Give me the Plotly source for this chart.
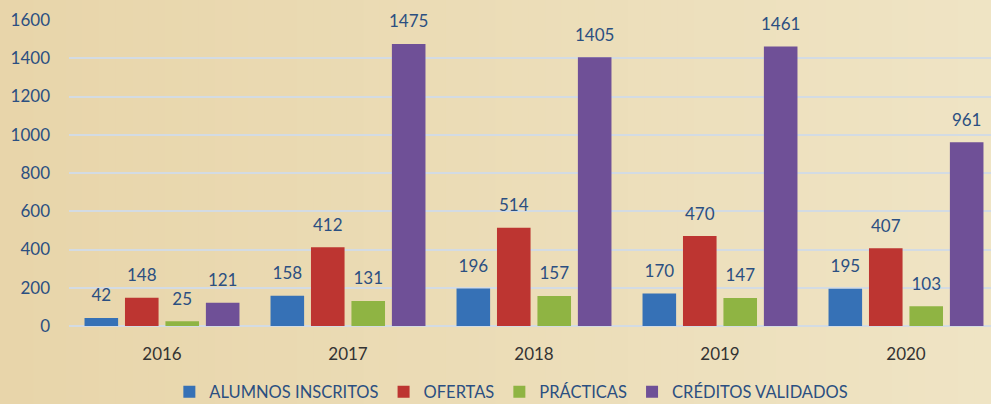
import plotly.graph_objects as go

years = ["2016", "2017", "2018", "2019", "2020"]
alumnos = [42, 158, 196, 170, 195]
ofertas = [148, 412, 514, 470, 407]
practicas = [25, 131, 157, 147, 103]
creditos = [121, 1475, 1405, 1461, 961]
series_names = ["ALUMNOS INSCRITOS", "OFERTAS", "PRÁCTICAS", "CRÉDITOS VALIDADOS"]
y_ticks = [0, 200, 400, 600, 800, 1000, 1200, 1400, 1600]

colors = ["#3671b6", "#bd3531", "#8fb443", "#6f5097"]
font_col = "#2b4f81"
FONT = "Lato"

fig = go.Figure()
for i, (name, vals, col) in enumerate(zip(series_names, [alumnos, ofertas, practicas, creditos], colors)):
    fig.add_trace(go.Bar(
        x=years, y=vals, name=name, offsetgroup=str(i),
        marker=dict(color=col, line=dict(width=0)),
    ))
for i, (name, vals) in enumerate(zip(series_names, [alumnos, ofertas, practicas, creditos])):
    fig.add_trace(go.Scatter(
        x=years, y=vals, offsetgroup=str(i), mode="markers+text",
        marker=dict(size=18, color="rgba(0,0,0,0)"),
        text=[str(v) for v in vals], textposition="top center",
        textfont=dict(family=FONT, size=17, color=font_col),
        showlegend=False, hoverinfo="skip", cliponaxis=False,
    ))

# background gradient (decorative)
n = 60
c0 = (232, 213, 170)
c1 = (239, 228, 196)
W = 991
shapes = []
for i in range(n):
    t = i / (n - 1)
    c = tuple(round(a + (b - a) * t) for a, b in zip(c0, c1))
    shapes.append(dict(type="rect", xref="paper", yref="paper",
                       x0=(i / n) * (W / 922) - 69 / 922, x1=((i + 1) / n) * (W / 922) - 69 / 922 + 0.002,
                       y0=-2, y1=1.2, fillcolor="rgb(%d,%d,%d)" % c, line=dict(width=0), layer="below"))
fig.update_layout(shapes=shapes)

fig.update_layout(
    width=991, height=404,
    margin=dict(l=69, r=0, t=20, b=78, autoexpand=False),
    paper_bgcolor="rgb(236,222,186)",
    plot_bgcolor="rgba(0,0,0,0)",
    barmode="group", bargap=0.13, bargroupgap=0.17,
    scattermode="group", scattergap=0.13,
    font=dict(family=FONT, size=17, color=font_col),
    showlegend=True,
    legend=dict(orientation="h", x=0.516, xanchor="center", xref="container",
                y=(404 - 392) / 404, yanchor="middle", yref="container",
                font=dict(family=FONT, size=16.5, color=font_col),
                itemwidth=30, traceorder="normal", bgcolor="rgba(0,0,0,0)"),
    xaxis=dict(range=[-0.5, 4.457], showgrid=False, showline=False, ticks="",
               tickfont=dict(family=FONT, size=17, color="#333333"), ticklabelstandoff=16),
    yaxis=dict(range=[0, 1600], tickvals=y_ticks, showgrid=True, gridcolor="#d3dbe3",
               gridwidth=2, zeroline=True, zerolinecolor="#d3dbe3", zerolinewidth=2,
               showline=False, ticks="", ticklabelstandoff=18,
               tickfont=dict(family=FONT, size=17, color=font_col)),
)
fig.write_html("out.html")
